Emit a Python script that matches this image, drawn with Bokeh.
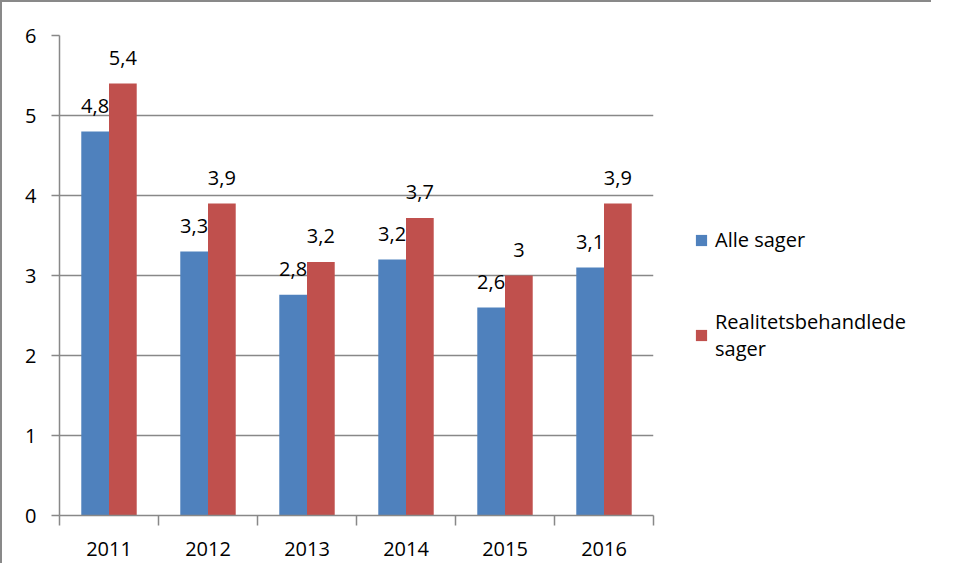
from bokeh.plotting import figure
from bokeh.layouts import row
from bokeh.models import (ColumnDataSource, FactorRange, Range1d, LinearAxis, CategoricalAxis,
                          FixedTicker, Legend, LegendItem, LabelSet)
from bokeh.transform import dodge
from bokeh.core.properties import value
from bokeh.embed import file_html
from bokeh.resources import INLINE

years = ["2011", "2012", "2013", "2014", "2015", "2016"]
alle = [4.8, 3.3, 2.76, 3.2, 2.6, 3.1]
real = [5.4, 3.9, 3.17, 3.72, 3.0, 3.9]
alle_lbl = ["4,8", "3,3", "2,8", "3,2", "2,6", "3,1"]
real_lbl = ["5,4", "3,9", "3,2", "3,7", "3", "3,9"]
series_names = ["Alle sager", "Realitetsbehandlede\nsager"]
y_ticks = [0, 1, 2, 3, 4, 5, 6]
x_edges = list(range(len(years) + 1))

BLUE = "#4F81BD"
RED = "#C0504D"
GREY = "#888888"
FONT = "Open Sans"
FS = "20px"
BORDER = "2px solid #898989"

src = ColumnDataSource(dict(year=years, alle=alle, real=real, alle_lbl=alle_lbl, real_lbl=real_lbl))

p = figure(x_range=FactorRange(*years, range_padding=0), y_range=Range1d(0, 6),
           width=656, height=563, output_backend="svg", toolbar_location=None,
           x_axis_location=None, y_axis_location=None,
           min_border_left=57, min_border_right=5, min_border_top=33, min_border_bottom=50)
p.styles = {"border-top": BORDER, "border-left": BORDER}
p.outline_line_color = None
p.background_fill_color = "white"
p.border_fill_color = "white"

# y axis
yax = LinearAxis(ticker=FixedTicker(ticks=y_ticks, minor_ticks=[]))
yax.axis_line_color = GREY
yax.axis_line_width = 1.5
yax.major_tick_line_color = GREY
yax.major_tick_line_width = 1.5
yax.major_tick_in = 0
yax.major_tick_out = 8
yax.minor_tick_line_color = None
yax.major_label_standoff = 15
yax.major_label_text_font = FONT
yax.major_label_text_font_size = FS
yax.major_label_text_color = "black"
p.add_layout(yax, "left")

# x tick axis (category boundaries, synthetic coordinates), no labels
tax = LinearAxis(ticker=FixedTicker(ticks=x_edges, minor_ticks=[]))
tax.axis_line_color = GREY
tax.axis_line_width = 1.5
tax.major_tick_line_color = GREY
tax.major_tick_line_width = 1.5
tax.major_tick_in = 0
tax.major_tick_out = 10
tax.minor_tick_line_color = None
tax.major_label_overrides = {e: "" for e in x_edges}
tax.major_label_text_font_size = "0px"
tax.major_label_standoff = 0
p.add_layout(tax, "below")

# category labels
cax = CategoricalAxis()
cax.axis_line_color = None
cax.major_tick_line_color = None
cax.major_label_standoff = 10
cax.major_label_text_font = FONT
cax.major_label_text_font_size = FS
cax.major_label_text_color = "black"
p.add_layout(cax, "below")

p.xgrid.grid_line_color = None
p.ygrid.ticker = FixedTicker(ticks=y_ticks)
p.ygrid.grid_line_color = GREY
p.ygrid.grid_line_width = 1.5

w = 0.28
r1 = p.vbar(x=dodge("year", -w / 2, range=p.x_range), top="alle", width=w, source=src,
            fill_color=BLUE, line_color=None)
r2 = p.vbar(x=dodge("year", w / 2, range=p.x_range), top="real", width=w, source=src,
            fill_color=RED, line_color=None)

for col, lbl, off in (("alle", "alle_lbl", -w / 2), ("real", "real_lbl", w / 2)):
    ls = LabelSet(x=dodge("year", off, range=p.x_range), y=col, text=lbl, source=src,
                  text_align="center", text_baseline="alphabetic", y_offset=19,
                  text_font=value(FONT), text_font_size=FS, text_color="black")
    p.add_layout(ls)

# legend panel (separate canvas to the right of the plot); its bars have no width and stay out of view
q = figure(width=275, height=563, output_backend="svg", toolbar_location=None,
           x_range=FactorRange(*years), y_range=Range1d(10, 11),
           x_axis_location=None, y_axis_location=None,
           min_border_left=0, min_border_right=0, min_border_top=33, min_border_bottom=50)
q.styles = {"border-top": BORDER}
q.outline_line_color = None
q.xgrid.grid_line_color = None
q.ygrid.grid_line_color = None
q1 = q.vbar(x="year", top="alle", width=0, source=src, fill_color=BLUE, line_color=None)
q2 = q.vbar(x="year", top="real", width=0, source=src, fill_color=RED, line_color=None)

legend = Legend(items=[LegendItem(label=series_names[0], renderers=[q1]),
                       LegendItem(label=series_names[1], renderers=[q2])],
                location=(38, 153))
legend.border_line_color = None
legend.background_fill_alpha = 0
legend.padding = 0
legend.margin = 0
legend.spacing = 55
legend.glyph_width = 14
legend.glyph_height = 14
legend.label_standoff = 7
legend.label_text_font = FONT
legend.label_text_font_size = FS
legend.label_text_color = "black"
q.add_layout(legend, "center")

layout = row(p, q)
open("out.html", "w").write(file_html(layout, INLINE))
